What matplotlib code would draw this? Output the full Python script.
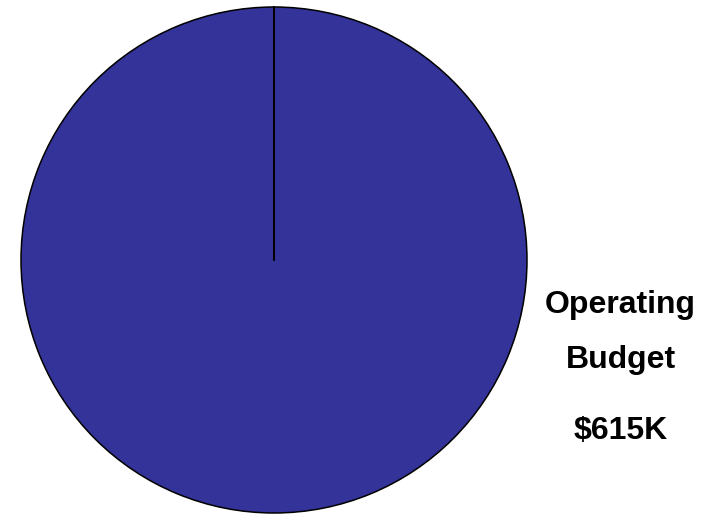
import matplotlib
matplotlib.use("Agg")
import matplotlib.pyplot as plt

# budget breakdown (single category)
labels = ["Operating Budget"]
amounts_k = [615]
colors = ["#333399"]

fig = plt.figure(figsize=(7.23, 5.14), dpi=100)
ax = fig.add_axes([0, 0, 1, 1])

cx, cy, rad = 274, 260, 253
ax.pie(amounts_k, colors=colors, center=(cx, cy), radius=rad, startangle=90,
       wedgeprops=dict(edgecolor="black", linewidth=1.1))
# radial boundary at 12 o'clock
ax.plot([cx, cx], [cy, cy - rad], color="black", linewidth=1.4)
ax.set_xlim(0, 723)
ax.set_ylim(514, 0)
ax.set_aspect("equal")
ax.axis("off")

font = dict(family="Liberation Sans", fontsize=23, fontweight="bold",
            ha="center", va="baseline")
ax.text(620, 313, "Operating", **font)
ax.text(621, 368, "Budget", **font)
ax.text(621, 439, f"${amounts_k[0]}K", **font)

fig.savefig("out.png", dpi=100)
